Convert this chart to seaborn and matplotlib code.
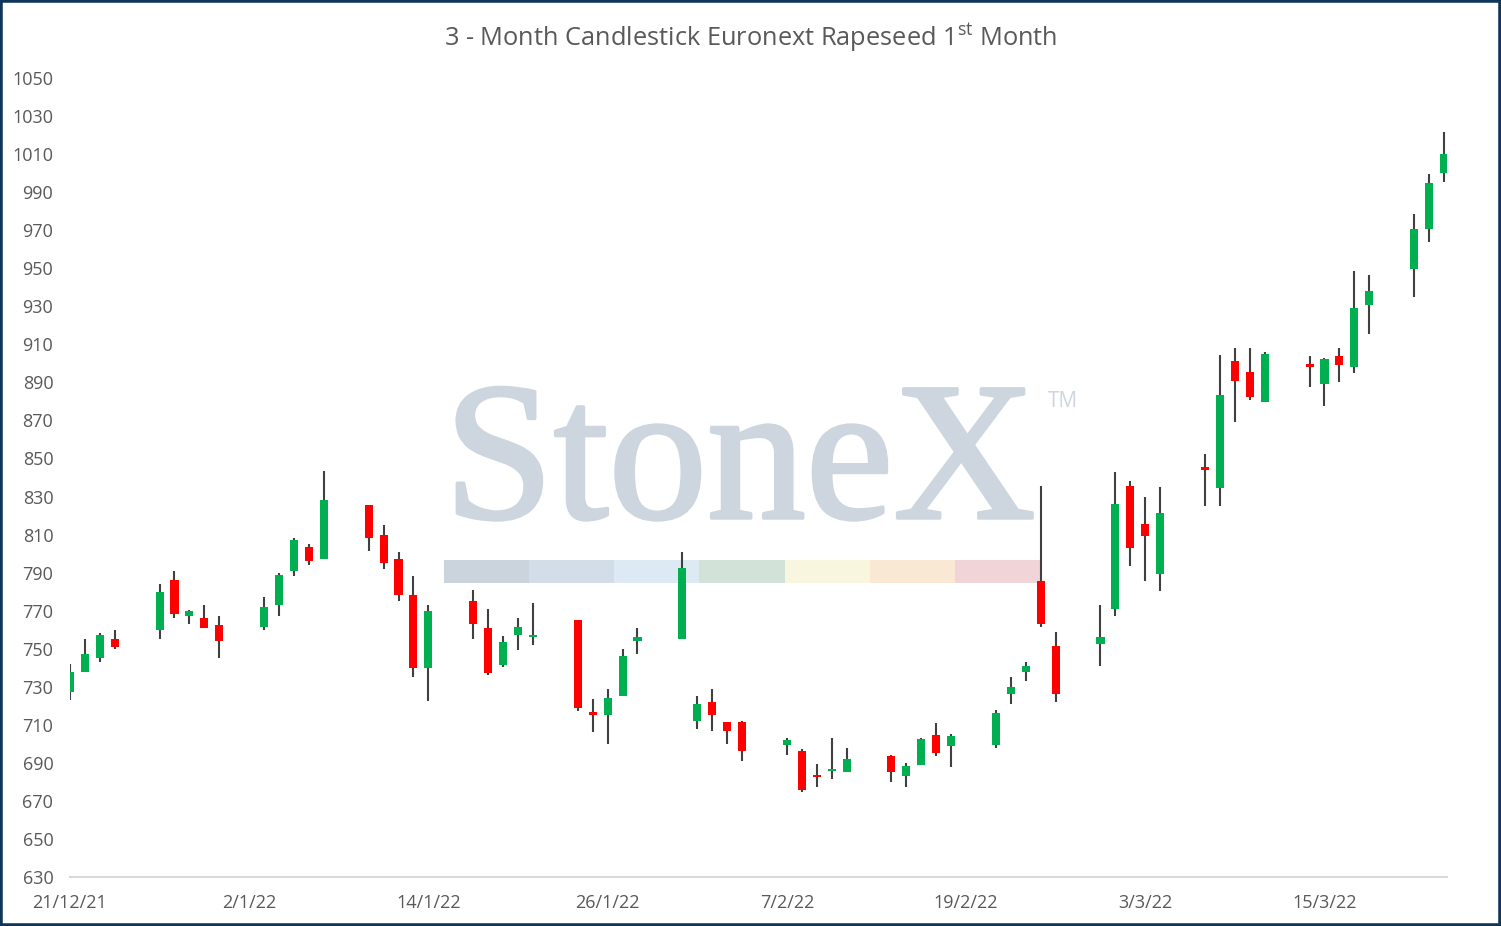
import pandas as pd
import matplotlib.pyplot as plt
import matplotlib.patheffects as pe
import seaborn as sns
from matplotlib.patches import Rectangle

# Trading days and daily OHLC (EUR/t)
dates = [
    "2021-12-21", "2021-12-22", "2021-12-23", "2021-12-24", "2021-12-27",
    "2021-12-28", "2021-12-29", "2021-12-30", "2021-12-31",
    "2022-01-03", "2022-01-04", "2022-01-05", "2022-01-06", "2022-01-07",
    "2022-01-10", "2022-01-11", "2022-01-12", "2022-01-13", "2022-01-14",
    "2022-01-17", "2022-01-18", "2022-01-19", "2022-01-20", "2022-01-21",
    "2022-01-24", "2022-01-25", "2022-01-26", "2022-01-27", "2022-01-28",
    "2022-01-31",
    "2022-02-01", "2022-02-02", "2022-02-03", "2022-02-04",
    "2022-02-07", "2022-02-08", "2022-02-09", "2022-02-10", "2022-02-11",
    "2022-02-14", "2022-02-15", "2022-02-16", "2022-02-17", "2022-02-18",
    "2022-02-21", "2022-02-22", "2022-02-23", "2022-02-24", "2022-02-25",
    "2022-02-28",
    "2022-03-01", "2022-03-02", "2022-03-03", "2022-03-04",
    "2022-03-07", "2022-03-08", "2022-03-09", "2022-03-10", "2022-03-11",
    "2022-03-14", "2022-03-15", "2022-03-16", "2022-03-17", "2022-03-18",
    "2022-03-21", "2022-03-22", "2022-03-23",
]
opens = [
    727, 738, 745, 755, 760, 786, 767, 766, 762.5,
    761.5, 773, 791, 803.5, 797, 825.5, 810, 797, 778, 740,
    775, 761, 741.5, 757, 756, 765, 716.5, 715, 725, 754, 755,
    712, 722, 711.5, 711.5, 699.5, 696, 683.5, 685.5, 685,
    693.5, 683, 689, 704.5, 699, 699.5, 726, 738, 785.5, 751.5, 752.5,
    771, 835.5, 815.5, 789.5, 845.5, 834.5, 901, 895.5, 879.5,
    899.5, 889, 904, 898, 930.5, 949.5, 970.5, 1000,
]
highs = [
    742, 755, 758, 760, 784, 791, 770.5, 773, 767,
    777, 790, 808, 805, 843.5, 825.5, 815, 801, 788, 773,
    781, 771, 756.5, 766, 774, 765, 723.5, 729, 750, 761, 801,
    725, 729, 711.5, 712, 703, 697.5, 689.5, 703, 698,
    694, 690, 703, 711, 705, 718, 735, 743, 835.5, 759, 773,
    843, 838, 830, 835, 852.5, 904.5, 908, 908, 906,
    904, 903, 908, 948.5, 946.5, 978.5, 999.5, 1021.5,
]
lows = [
    723, 738, 743, 750, 755, 766, 763, 761, 745,
    760, 767, 788, 794, 797, 801.5, 792, 775, 735, 722.5,
    755, 736, 740.5, 749.5, 752, 717, 706, 700, 725, 747, 755,
    708, 707, 700, 691, 694, 674.5, 677.5, 681.5, 685,
    680, 677.5, 689, 693.5, 688, 698, 721, 733, 761.5, 722, 741,
    767, 793.5, 785.5, 780.5, 825, 825, 869, 880.5, 879.5,
    887.5, 877.5, 890, 895, 915.5, 935, 964, 995.5,
]
closes = [
    738, 747, 757, 751, 780, 768, 770, 761, 754,
    772, 789, 807, 796, 828, 808, 795, 778, 740, 770,
    763, 737, 753.5, 761.5, 757, 719, 715, 724, 746, 756, 792.5,
    721, 715, 707, 696, 702, 676, 682.5, 686.5, 692,
    685, 688.5, 702.5, 695, 704, 716, 730, 741, 763, 726, 756,
    826, 803, 809.5, 821.5, 844, 883.5, 890.5, 882.5, 905,
    898, 902.5, 899, 929, 938, 970.5, 995, 1010,
]

df = pd.DataFrame({"date": pd.to_datetime(dates), "open": opens,
                   "high": highs, "low": lows, "close": closes})
df["up"] = df["close"] >= df["open"]
df["body_low"] = df[["open", "close"]].min(axis=1)
df["body_h"] = (df["close"] - df["open"]).abs().clip(lower=1.2)

sns.set_theme(style="white")
plt.rcParams["font.family"] = ["Open Sans", "DejaVu Sans"]
plt.rcParams["mathtext.fontset"] = "custom"
plt.rcParams["mathtext.rm"] = "Open Sans"

text_grey = "#595959"
fig = plt.figure(figsize=(15.01, 9.26), dpi=100, facecolor="white")
ax = fig.add_axes([0.0466, 0.0529, 0.9174, 0.8629])

# StoneX watermark behind the candles
wm = "#cdd5de"
ax.text(444 / 1501, 1 - 518 / 926, "StoneX", transform=fig.transFigure,
        family="Liberation Serif", fontsize=142, color=wm,
        ha="left", va="baseline", zorder=0.5,
        path_effects=[pe.withStroke(linewidth=2.5, foreground=wm)])
ax.text(1048 / 1501, 1 - 407 / 926, "TM", transform=fig.transFigure,
        fontsize=15, color=wm, ha="left", va="baseline", zorder=0.5)
band = ["#cbd3dd", "#d3dde8", "#ddeaf4", "#d3e2d8",
        "#f8f6de", "#f9e8d4", "#f0d4d7"]
seg = (1040 - 444) / len(band)
for i, c in enumerate(band):
    ax.add_patch(Rectangle(((444 + i * seg) / 1501, 1 - 583 / 926),
                           seg / 1501, 23 / 926, transform=fig.transFigure,
                           facecolor=c, edgecolor="none", zorder=0.5))

# Wicks and bodies
ax.vlines(df["date"], df["low"], df["high"], color="#404040",
          linewidth=1.5, zorder=2)
colors = ["#00b050" if u else "#ff0000" for u in df["up"]]
ax.bar(df["date"], df["body_h"], bottom=df["body_low"], width=0.54,
       color=colors, edgecolor="none", zorder=3)

start = df["date"].iloc[0]
ax.set_xlim(start, start + pd.Timedelta(days=92.2))
ax.set_ylim(630, 1050)
ax.set_yticks(range(630, 1051, 20))
ticks = pd.date_range(start, periods=8, freq="12D")
ax.set_xticks(ticks)
ax.set_xticklabels([f"{d.day}/{d.month}/{d:%y}" for d in ticks])
ax.tick_params(axis="both", length=0, labelsize=13, labelcolor=text_grey)
ax.tick_params(axis="y", pad=12)
ax.tick_params(axis="x", pad=12)
ax.grid(False)
for side in ["left", "right", "top"]:
    ax.spines[side].set_visible(False)
ax.spines["bottom"].set_color("#d9d9d9")
ax.spines["bottom"].set_linewidth(1.5)
ax.patch.set_alpha(0)

fig.text(0.5, 1 - 38 / 926,
         r"3 - Month Candlestick Euronext Rapeseed 1$^{\mathrm{st}}$ Month",
         ha="center", va="center", fontsize=18.3, color=text_grey)

# Dark frame round the whole chart
fig.patches.append(Rectangle((0, 0), 1, 1, transform=fig.transFigure,
                             fill=False, edgecolor="#0d3659", linewidth=4))

fig.savefig("out.png", dpi=100)
